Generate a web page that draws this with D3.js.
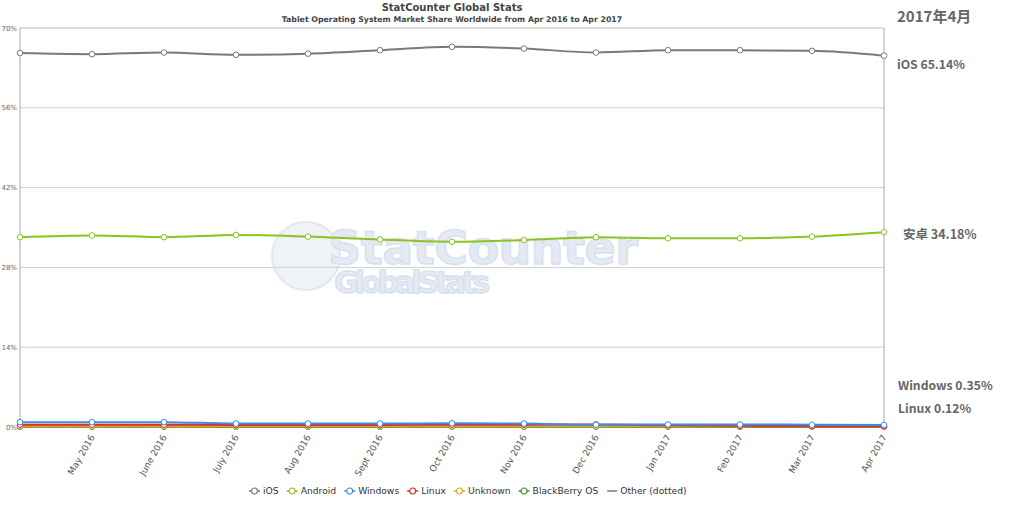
<!DOCTYPE html>
<html>
<head>
<meta charset="utf-8">
<script src="https://cdn.jsdelivr.net/npm/d3@7"></script>
<style>
  body { margin: 0; background: #fff; }
  svg { display: block; font-family: "DejaVu Sans", Verdana, sans-serif; }
</style>
</head>
<body>
<div id="chart"></div>
<script>
var months = ["Apr 2016", "May 2016", "June 2016", "July 2016", "Aug 2016", "Sept 2016", "Oct 2016",
  "Nov 2016", "Dec 2016", "Jan 2017", "Feb 2017", "Mar 2017", "Apr 2017"];
var yTicks = [0, 14, 28, 42, 56, 70];

var iosVals = [65.6, 65.4, 65.7, 65.3, 65.5, 66.1, 66.7, 66.4, 65.7, 66.1, 66.1, 66.0, 65.14];
var androidVals = [33.3, 33.6, 33.3, 33.7, 33.4, 32.9, 32.5, 32.8, 33.3, 33.1, 33.1, 33.4, 34.18];
var windowsVals = [0.85, 0.85, 0.85, 0.6, 0.6, 0.6, 0.65, 0.6, 0.4, 0.45, 0.45, 0.4, 0.35];
var linuxVals = [0.4, 0.4, 0.4, 0.35, 0.35, 0.35, 0.4, 0.4, 0.45, 0.3, 0.2, 0.15, 0.12];
var unknownVals = [0.15, 0.15, 0.15, 0.15, 0.15, 0.15, 0.15, 0.15, 0.15, 0.15, 0.15, 0.15, 0.15];
var bbVals = [0.05, 0.05, 0.05, 0.05, 0.05, 0.05, 0.05, 0.05, 0.05, 0.05, 0.05, 0.05, 0.05];
var otherVals = [0.02, 0.02, 0.02, 0.02, 0.02, 0.02, 0.02, 0.02, 0.02, 0.02, 0.02, 0.02, 0.02];

var seriesNames = ["iOS", "Android", "Windows", "Linux", "Unknown", "BlackBerry OS"];
var seriesColors = ["#7a7a7a", "#8cc320", "#3d8de0", "#e4282b", "#e0a526", "#4e8f2e"];

var W = 1024, H = 511;
var svg = d3.select("#chart").append("svg").attr("width", W).attr("height", H);

var x = d3.scalePoint().domain(months).range([20, 884]);
var y = d3.scaleLinear().domain([0, 70]).range([427, 28]);

// titles
svg.append("text").attr("x", 452).attr("y", 11).attr("text-anchor", "middle")
  .style("font-size", "10px").style("font-weight", "bold").attr("fill", "#444")
  .text("StatCounter Global Stats");
svg.append("text").attr("x", 452).attr("y", 21.5).attr("text-anchor", "middle")
  .style("font-size", "7.8px").style("font-weight", "bold").attr("fill", "#444")
  .text("Tablet Operating System Market Share Worldwide from Apr 2016 to Apr 2017");

// watermark (one text, two lines)
var wm = svg.append("g").attr("opacity", 0.55);
wm.append("circle").attr("cx", 306).attr("cy", 256).attr("r", 34)
  .attr("fill", "#e3eaf3").attr("stroke", "#c9d5e6").attr("stroke-width", 2);
var wt = wm.append("text").style("font-weight", "bold")
  .attr("fill", "#cdd9ea").attr("stroke", "#b9c8de").attr("stroke-width", 1.4);
wt.append("tspan").attr("x", 328).attr("y", 264).style("font-size", "46px")
  .attr("textLength", 310).text("StatCounter");
wt.append("tspan").attr("x", 334).attr("y", 293).style("font-size", "30px")
  .attr("textLength", 156).text("GlobalStats");

// grid
svg.append("g").selectAll("line").data(yTicks).enter().append("line")
  .attr("x1", 20).attr("x2", 884)
  .attr("y1", function (d) { return y(d); }).attr("y2", function (d) { return y(d); })
  .attr("stroke", function (d) { return d == 70 ? "#bbb" : "#d0d0d0"; }).attr("stroke-width", 1);

svg.append("line").attr("x1", 20).attr("x2", 20).attr("y1", 28).attr("y2", 428).attr("stroke", "#aaa");
svg.append("line").attr("x1", 884).attr("x2", 884).attr("y1", 28).attr("y2", 428).attr("stroke", "#aaa");

svg.append("g").selectAll("text").data(yTicks).enter().append("text")
  .attr("x", 17).attr("y", function (d) { return y(d) + 2.5; })
  .attr("text-anchor", "end").style("font-size", "7px").attr("fill", "#666")
  .text(function (d) { return d + "%"; });

// x axis labels
svg.append("g").selectAll("text").data(months.slice(1)).enter().append("text")
  .attr("transform", function (d) { return "translate(" + (x(d) + 3) + ",437) rotate(-60)"; })
  .attr("text-anchor", "end").style("font-size", "9px").attr("fill", "#555")
  .text(function (d) { return d; });

var line = d3.line()
  .x(function (d, i) { return x(months[i]); })
  .y(function (d) { return y(d); })
  .curve(d3.curveMonotoneX);

var allVals = [iosVals, androidVals, windowsVals, linuxVals, unknownVals, bbVals];

// other (dotted)
svg.append("path").attr("d", line(otherVals)).attr("fill", "none")
  .attr("stroke", "#333").attr("stroke-width", 1.5).attr("stroke-dasharray", "1.5,2");

for (var s = allVals.length - 1; s >= 0; s--) {
  var g = svg.append("g");
  g.append("path").attr("d", line(allVals[s])).attr("fill", "none")
    .attr("stroke", seriesColors[s]).attr("stroke-width", 2);
  g.selectAll("circle").data(allVals[s]).enter().append("circle")
    .attr("cx", function (d, i) { return x(months[i]); })
    .attr("cy", function (d) { return y(d); })
    .attr("r", 2.8).attr("fill", "#fff").attr("stroke", seriesColors[s]).attr("stroke-width", 1);
}

// legend
var legendItems = seriesNames.concat(["Other (dotted)"]);
var lg = svg.append("g").attr("transform", "translate(0,491)");
var lx = 249;
legendItems.forEach(function (name, i) {
  var item = lg.append("g").attr("transform", "translate(" + lx + ",0)");
  if (i < seriesNames.length) {
    item.append("line").attr("x1", 0).attr("x2", 11).attr("y1", 0).attr("y2", 0)
      .attr("stroke", seriesColors[i]).attr("stroke-width", 1.5);
    item.append("circle").attr("cx", 5.5).attr("cy", 0).attr("r", 3)
      .attr("fill", "#fff").attr("stroke", seriesColors[i]).attr("stroke-width", 1.2);
  } else {
    item.append("line").attr("x1", 1).attr("x2", 11).attr("y1", 0).attr("y2", 0)
      .attr("stroke", "#555").attr("stroke-width", 1.2);
  }
  var t = item.append("text").attr("x", 14).attr("y", 3.3).style("font-size", "9.2px")
    .attr("fill", "#333").text(name);
  lx += 14 + t.node().getComputedTextLength() + 8;
});

// right annotations
var ann = svg.append("g").attr("fill", "#666").style("font-weight", "bold")
  .style("font-family", "'Noto Sans CJK SC', 'Open Sans', sans-serif");
ann.append("text").attr("x", 897).attr("y", 22).style("font-size", "15px").text("2017年4月");
ann.append("text").attr("x", 897).attr("y", 69).style("font-size", "12.2px").text("iOS 65.14%");
ann.append("text").attr("x", 903).attr("y", 239).style("font-size", "12.5px").text("安卓 34.18%");
ann.append("text").attr("x", 898).attr("y", 390).style("font-size", "12.2px").text("Windows 0.35%");
ann.append("text").attr("x", 898).attr("y", 413).style("font-size", "12.2px").text("Linux 0.12%");
</script>
</body>
</html>
